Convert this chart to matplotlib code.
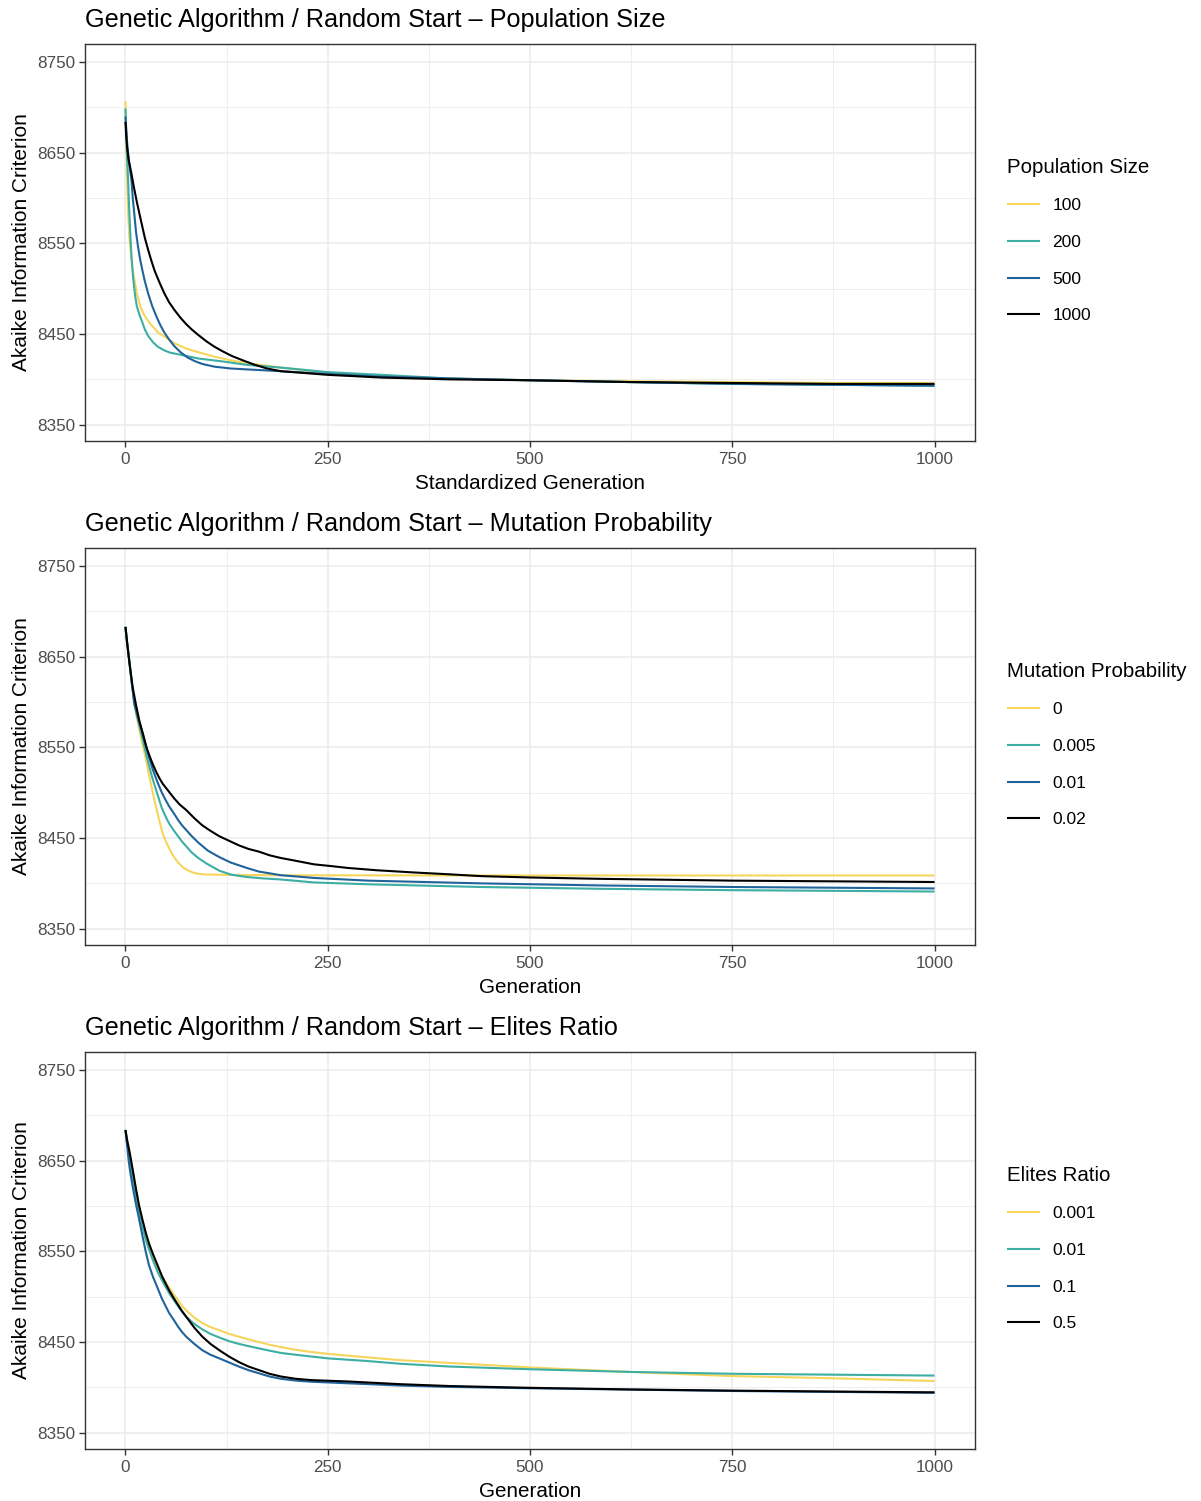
import matplotlib
matplotlib.use("Agg")
import matplotlib.pyplot as plt
from matplotlib.ticker import MultipleLocator

plt.rcParams['font.family'] = ['Liberation Sans', 'DejaVu Sans']

colors = ['#F6D55C', '#3CAEA3', '#20639B', '#000000']

# ---------------- Panel 1: Population Size ----------------
pop_labels = ['100', '200', '500', '1000']
pop_100_x = [0, 1, 2, 3.3, 5, 7, 9, 11, 14, 17, 19, 22, 26, 30, 40, 48.5, 60, 75, 90, 110, 130, 150, 192, 250, 316, 400, 500, 625, 750, 875, 1000]
pop_100_y = [8707, 8660, 8620, 8583, 8555, 8535, 8520, 8510, 8495, 8485, 8479, 8473, 8467, 8462, 8452, 8447, 8440, 8434, 8430, 8425, 8421, 8418, 8413, 8407, 8404, 8401, 8399, 8398, 8397, 8396, 8396]
pop_200_x = [0, 1, 2, 3.3, 4.5, 6, 7.5, 9.5, 12, 14, 17, 20, 24, 28, 34, 40, 48, 55, 69, 90, 118, 150, 192, 250, 316, 400, 500, 625, 750, 875, 1000]
pop_200_y = [8699, 8672, 8645, 8620, 8590, 8560, 8535, 8512, 8492, 8481, 8472, 8465, 8455, 8448, 8441, 8436, 8432, 8429.5, 8427, 8423, 8420, 8416, 8413, 8408, 8405, 8401, 8399, 8397, 8395, 8394, 8393]
pop_500_x = [0, 1, 2, 3, 5, 7.4, 9, 11, 13, 15.6, 18, 21, 24, 28, 33, 38, 43, 48.5, 54, 60, 68, 77, 86, 95, 110, 130, 150, 192, 250, 316, 400, 500, 625, 750, 875, 1000]
pop_500_y = [8690, 8675, 8662, 8652, 8635, 8620, 8600, 8582, 8563, 8546, 8533, 8520, 8508, 8495, 8481, 8470, 8460, 8451, 8444, 8437, 8430, 8424, 8420, 8417, 8414, 8412, 8411, 8409, 8406, 8403, 8401, 8399, 8397, 8395, 8394, 8393]
pop_1000_x = [0, 1, 2, 4, 7.4, 10, 14, 19.7, 24, 28, 32, 36, 42, 48, 54, 61, 68, 75, 82, 90, 100, 110, 120, 131, 145, 160, 175, 192, 250, 316, 400, 500, 625, 750, 875, 1000]
pop_1000_y = [8684, 8668, 8656, 8642, 8627, 8614, 8596, 8573, 8556, 8543, 8531, 8520, 8507, 8495, 8485, 8476, 8468, 8461, 8455, 8449, 8442, 8436, 8431, 8426, 8421, 8416, 8412, 8409, 8405, 8402, 8400, 8399, 8397, 8396, 8395, 8395]

# ---------------- Panel 2: Mutation Probability ----------------
mut_labels = ['0', '0.005', '0.01', '0.02']
mut_0_x = [0, 2, 5, 8, 11, 14, 17, 21, 25.5, 30, 34, 40, 46, 50, 55, 60, 65, 72, 78, 83, 90, 99, 131, 200, 500, 1000]
mut_0_y = [8683, 8666, 8643, 8620, 8598, 8583, 8570, 8554, 8536, 8516, 8499, 8476, 8455, 8446, 8437, 8429, 8423, 8417, 8414, 8412, 8410.5, 8409.8, 8409.3, 8408.9, 8408.7, 8408.7]
mut_005_x = [0, 2, 5, 8, 11, 14, 17, 21, 25.5, 30, 34, 40, 45, 50, 54, 60, 65, 70, 75, 82, 90, 100, 116, 131, 150, 170, 192, 233, 300, 439, 587, 750, 1000]
mut_005_y = [8683, 8666, 8643, 8620, 8598, 8586, 8575, 8560, 8543, 8527, 8514, 8497, 8483, 8473, 8466, 8458, 8452, 8446, 8441, 8434, 8428, 8422, 8414, 8409.5, 8407, 8405.5, 8404.3, 8401, 8399, 8396, 8394, 8392.5, 8391]
mut_01_x = [0, 2, 5, 8, 11, 14, 17, 21.4, 25, 28, 34, 39, 44, 49, 54, 60, 65, 70, 75, 82, 90, 102, 116, 130, 140, 150, 165, 192, 233, 300, 439, 587, 750, 1000]
mut_01_y = [8683, 8666, 8643, 8620, 8598, 8588, 8578, 8566, 8553, 8543, 8525, 8513, 8502, 8493, 8485, 8477, 8470, 8464, 8459, 8452, 8445, 8436, 8429, 8423, 8420, 8417, 8413, 8409, 8406, 8403, 8400, 8397.7, 8396, 8394.4]
mut_02_x = [0, 2, 5, 9, 13, 17, 22, 26, 30, 34, 38, 42, 46, 53, 60, 67, 75, 85, 95, 105, 116, 128, 140, 152, 165, 178, 192, 210, 233, 255, 275, 310, 357, 400, 439, 500, 587, 750, 1000]
mut_02_y = [8683, 8666, 8643, 8616, 8597, 8580, 8563, 8550, 8540, 8531, 8523, 8516, 8510, 8502, 8494, 8487, 8481, 8472, 8464, 8458, 8452, 8447, 8442, 8438, 8435, 8431, 8428, 8425, 8421, 8419, 8417, 8414.5, 8412, 8410, 8408, 8406.5, 8405, 8403, 8401.5]

# ---------------- Panel 3: Elites Ratio ----------------
eli_labels = ['0.001', '0.01', '0.1', '0.5']
eli_001_x = [0, 2, 5, 9, 13, 17, 22, 28, 34, 40, 47, 54, 60, 65, 70, 75, 85, 95, 105, 116, 128, 140, 152, 165, 178, 192, 210, 230, 250, 275, 300, 340, 400, 450, 500, 560, 625, 690, 750, 875, 1000]
eli_001_y = [8684, 8674, 8660, 8638, 8617, 8598, 8578, 8560, 8545, 8532, 8520, 8510, 8502, 8496, 8490, 8485, 8477, 8471, 8466.5, 8463, 8459, 8456, 8453, 8450, 8447, 8444.5, 8441.5, 8439, 8437, 8435, 8433, 8430, 8427, 8424.5, 8422, 8419.5, 8417, 8414.5, 8412.5, 8410, 8407]
eli_01_x = [0, 2, 5, 9, 13, 17, 21, 25, 30, 34, 40, 47, 54, 60, 67, 75, 85, 95, 105, 116, 128, 140, 152, 165, 178, 192, 210, 230, 250, 275, 300, 340, 400, 450, 500, 625, 750, 875, 1000]
eli_01_y = [8684, 8671, 8655, 8630, 8610, 8592, 8577, 8563, 8550, 8540, 8527, 8515, 8504, 8496, 8487, 8478, 8470, 8464, 8459, 8455, 8451, 8448, 8445.5, 8443, 8440.5, 8438, 8436, 8434, 8432, 8430.5, 8429, 8426, 8423, 8421.5, 8420, 8417, 8415, 8414, 8413]
eli_1_x = [0, 2, 4, 6, 9, 13, 17, 21, 25, 29, 34, 40, 45, 50, 54, 60, 65, 70, 75, 85, 95, 105, 116, 128, 140, 152, 165, 178, 192, 210, 230, 275, 340, 400, 500, 625, 750, 875, 1000]
eli_1_y = [8684, 8667, 8650, 8637, 8621, 8602, 8585, 8567, 8550, 8535, 8522, 8509, 8498, 8489, 8482, 8474, 8467, 8461, 8456, 8448, 8441, 8436, 8432, 8427.5, 8423, 8419, 8415.5, 8412, 8409.5, 8407.5, 8406.2, 8404.5, 8402, 8400.5, 8399, 8397.5, 8396, 8395, 8394]
eli_5_x = [0, 2, 5, 9, 13, 17, 21, 25, 29, 34, 40, 45, 50, 54, 60, 65, 70, 75, 85, 95, 105, 116, 128, 140, 152, 165, 178, 192, 210, 230, 275, 340, 400, 500, 625, 750, 875, 1000]
eli_5_y = [8684, 8673, 8660, 8640, 8619, 8600, 8585, 8571, 8559, 8547, 8534, 8523, 8514, 8507, 8498, 8491, 8484, 8478, 8466, 8456, 8448, 8441, 8434, 8428, 8423, 8419, 8415, 8412, 8409.5, 8408, 8406.5, 8403.5, 8401.5, 8399.5, 8397.7, 8396.4, 8395.4, 8394.5]

panels = [
    dict(title='Genetic Algorithm / Random Start \u2013 Population Size', xlabel='Standardized Generation',
         legend='Population Size', labels=pop_labels,
         series=[(pop_100_x, pop_100_y), (pop_200_x, pop_200_y), (pop_500_x, pop_500_y), (pop_1000_x, pop_1000_y)]),
    dict(title='Genetic Algorithm / Random Start \u2013 Mutation Probability', xlabel='Generation',
         legend='Mutation Probability', labels=mut_labels,
         series=[(mut_0_x, mut_0_y), (mut_005_x, mut_005_y), (mut_01_x, mut_01_y), (mut_02_x, mut_02_y)]),
    dict(title='Genetic Algorithm / Random Start \u2013 Elites Ratio', xlabel='Generation',
         legend='Elites Ratio', labels=eli_labels,
         series=[(eli_001_x, eli_001_y), (eli_01_x, eli_01_y), (eli_1_x, eli_1_y), (eli_5_x, eli_5_y)]),
]

W, H = 1201, 1501
fig = plt.figure(figsize=(W / 100, H / 100), dpi=100)

tops = [44, 548, 1052]
ph = 397
left, right = 85, 975

for i, p in enumerate(panels):
    top = tops[i]
    ax = fig.add_axes([left / W, 1 - (top + ph) / H, (right - left) / W, ph / H])
    for (xs, ys), c, lab in zip(p['series'], colors, p['labels']):
        ax.plot(xs, ys, color=c, lw=1.5, label=lab, solid_capstyle='butt', solid_joinstyle='round')
    ax.set_xlim(-50, 1050)
    ax.set_ylim(8332, 8770)
    ax.xaxis.set_major_locator(MultipleLocator(250))
    ax.xaxis.set_minor_locator(MultipleLocator(125))
    ax.set_yticks([8350, 8450, 8550, 8650, 8750])
    ax.set_yticks([8400, 8500, 8600, 8700], minor=True)
    ax.grid(which='major', color='#EBEBEB', lw=1.1)
    ax.grid(which='minor', color='#EBEBEB', lw=0.55)
    ax.set_axisbelow(True)
    for s in ax.spines.values():
        s.set_color('#333333')
        s.set_linewidth(1.0)
    ax.tick_params(which='major', length=4, width=1.0, color='#333333', labelcolor='#4D4D4D',
                   labelsize=12.3, pad=3)
    ax.tick_params(axis='x', which='major', pad=4)
    ax.tick_params(which='minor', length=0)
    ax.set_title(p['title'], loc='left', fontsize=18.2, color='black', pad=12)
    ax.set_xlabel(p['xlabel'], fontsize=14.9, labelpad=5)
    ax.set_ylabel('Akaike Information Criterion', fontsize=15, labelpad=4)
    ax.legend(title=p['legend'], loc='center left', bbox_to_anchor=(1007 / W, 1 - (top + 196.5) / H),
              bbox_transform=fig.transFigure, frameon=False, fontsize=12.5, title_fontsize=14.8,
              handlelength=1.9, handletextpad=0.72, labelspacing=1.24, alignment='left',
              borderaxespad=0, borderpad=0)

fig.savefig('out.png', dpi=100)
